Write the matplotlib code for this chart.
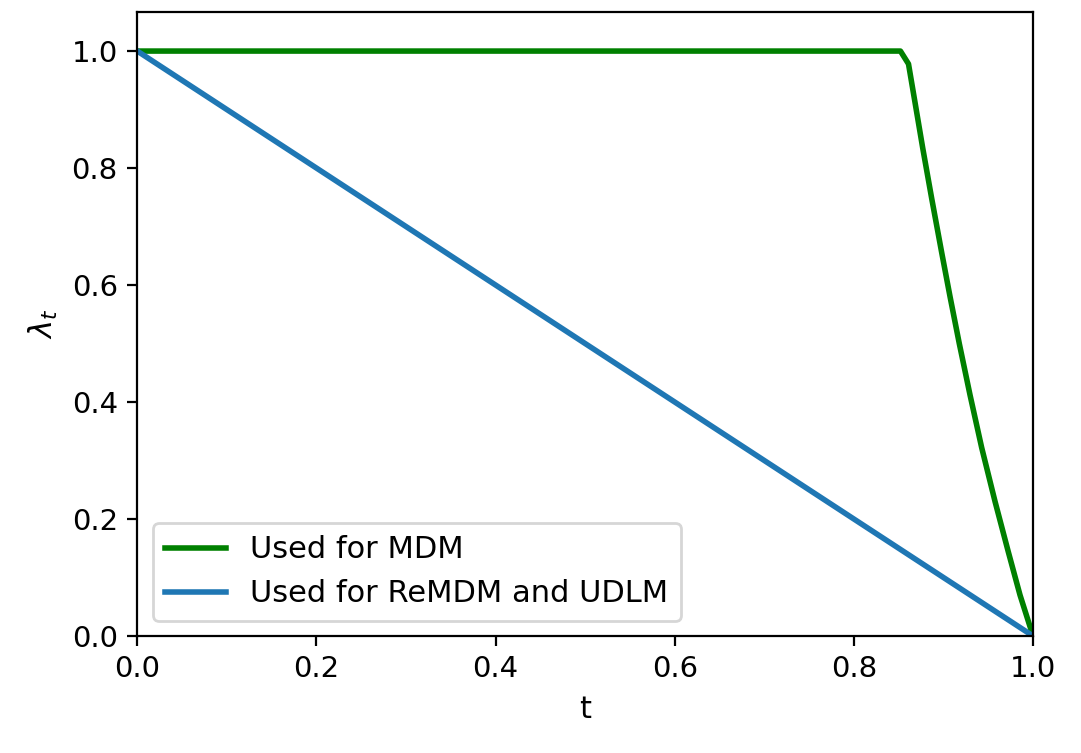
import matplotlib
matplotlib.use("Agg")
import matplotlib.pyplot as plt

# schedule used for MDM
t_mdm = [0.0, 0.852, 0.861, 0.8683, 0.8769, 0.8869, 0.898, 0.9074, 0.9177,
         0.9297, 0.9427, 0.9576, 0.9724, 0.9855, 1.0]
lam_mdm = [1.0, 1.0, 0.978, 0.912, 0.834, 0.748, 0.656, 0.580, 0.500,
           0.412, 0.322, 0.230, 0.144, 0.070, 0.0]

# linear schedule used for ReMDM and UDLM
t_lin = [0.0, 1.0]
lam_lin = [1.0, 0.0]

fig = plt.figure(figsize=(5.405, 3.765), dpi=200)
ax = fig.add_axes([0.127, 0.1554, 0.8286, 0.8286])

ax.plot(t_mdm, lam_mdm, color='green', lw=2, label='Used for MDM')
ax.plot(t_lin, lam_lin, color='tab:blue', lw=2, label='Used for ReMDM and UDLM')

ax.set_xlim(0, 1)
ax.set_ylim(0, 1.0667)
ax.set_yticks([0.0, 0.2, 0.4, 0.6, 0.8, 1.0])
ax.tick_params(labelsize=10.5)
ax.set_xlabel('t', fontsize=11)
ax.set_ylabel(r'$\lambda_t$', fontsize=11)
ax.legend(loc='lower left', fontsize=11)

fig.savefig('out.png', dpi=200)
